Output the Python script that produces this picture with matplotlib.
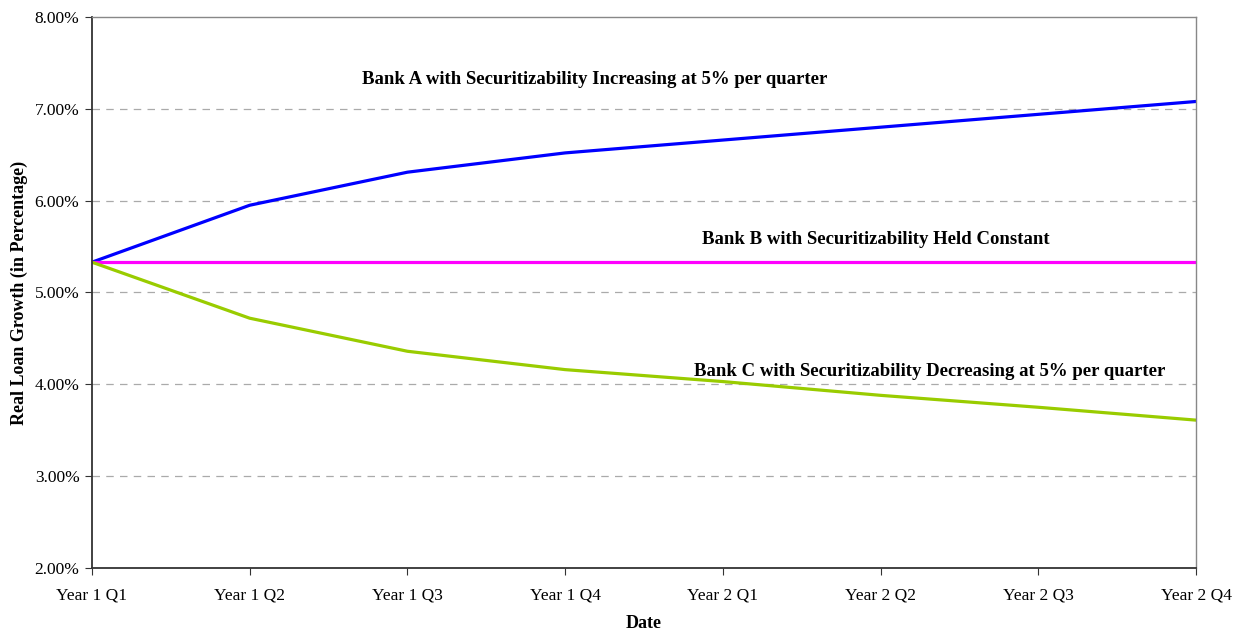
import matplotlib
matplotlib.use("Agg")
import matplotlib.pyplot as plt
from matplotlib.ticker import FuncFormatter

quarters = ["Year 1 Q1", "Year 1 Q2", "Year 1 Q3", "Year 1 Q4",
            "Year 2 Q1", "Year 2 Q2", "Year 2 Q3", "Year 2 Q4"]
bank_a = [5.33, 5.95, 6.31, 6.52, 6.66, 6.80, 6.94, 7.08]
bank_b = [5.33, 5.33, 5.33, 5.33, 5.33, 5.33, 5.33, 5.33]
bank_c = [5.33, 4.72, 4.36, 4.16, 4.03, 3.88, 3.75, 3.61]
y_ticks = [2, 3, 4, 5, 6, 7, 8]

plt.rcParams["font.family"] = ["Liberation Serif", "DejaVu Serif"]

fig = plt.figure(figsize=(12.46, 6.32), dpi=100)
ax = fig.add_axes([0.0738, 0.1013, 0.8861, 0.8718])

x = list(range(len(quarters)))
ax.plot(x, bank_a, color="#0000FF", lw=2.3, solid_joinstyle="round")
ax.plot(x, bank_b, color="#FF00FF", lw=2.3)
ax.plot(x, bank_c, color="#99CC00", lw=2.3, solid_joinstyle="round")

ax.set_xlim(0, len(quarters) - 1)
ax.set_ylim(2, 8)
ax.set_xticks(x)
ax.set_xticklabels(quarters, fontsize=12.5)
ax.set_yticks(y_ticks)
ax.yaxis.set_major_formatter(FuncFormatter(lambda v, _: f"{v:.2f}%"))
ax.tick_params(axis="y", labelsize=12.5, length=5, direction="out", color="#333333", pad=4)
ax.tick_params(axis="x", length=5, direction="out", color="#333333", pad=9)

for v in y_ticks[1:-1]:
    ax.axhline(v, color="#aaaaaa", lw=0.9, ls=(0, (6, 5)), zorder=0)

for side in ("left", "bottom"):
    ax.spines[side].set_color("#333333")
    ax.spines[side].set_linewidth(1.3)
for side in ("top", "right"):
    ax.spines[side].set_color("#888888")
    ax.spines[side].set_linewidth(1.0)

label_style = dict(ha="center", va="center", fontsize=13.5, fontweight="bold")
ax.text(3.19, 7.32, "Bank A with Securitizability Increasing at 5% per quarter", **label_style)
ax.text(4.97, 5.575, "Bank B with Securitizability Held Constant", **label_style)
ax.text(5.31, 4.137, "Bank C with Securitizability Decreasing at 5% per quarter", **label_style)

ax.set_xlabel("Date", fontsize=13, fontweight="bold", labelpad=8.5)
ax.set_ylabel("Real Loan Growth (in Percentage)", fontsize=13, fontweight="bold", labelpad=4.5)

fig.savefig("out.png", dpi=100)
